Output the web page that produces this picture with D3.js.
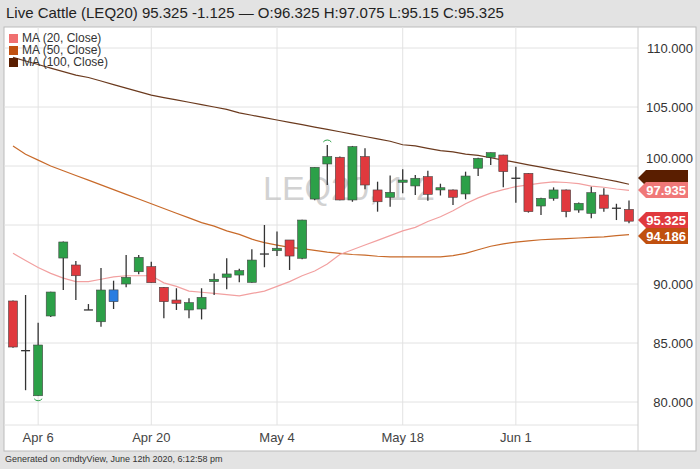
<!DOCTYPE html>
<html><head><meta charset="utf-8">
<script src="https://cdn.jsdelivr.net/npm/d3@7/dist/d3.min.js"></script>
<style>body{margin:0;background:#e3e3e3;font-family:"Liberation Sans",Arial,sans-serif}</style>
</head><body><svg id="c" width="700" height="469"></svg>
<script>
const dates=["2020-04-02","2020-04-03","2020-04-06","2020-04-07","2020-04-08","2020-04-09","2020-04-13","2020-04-14","2020-04-15","2020-04-16","2020-04-17","2020-04-20","2020-04-21","2020-04-22","2020-04-23","2020-04-24","2020-04-27","2020-04-28","2020-04-29","2020-04-30","2020-05-01","2020-05-04","2020-05-05","2020-05-06","2020-05-07","2020-05-08","2020-05-11","2020-05-12","2020-05-13","2020-05-14","2020-05-15","2020-05-18","2020-05-19","2020-05-20","2020-05-21","2020-05-22","2020-05-26","2020-05-27","2020-05-28","2020-05-29","2020-06-01","2020-06-02","2020-06-03","2020-06-04","2020-06-05","2020-06-08","2020-06-09","2020-06-10","2020-06-11","2020-06-12"];
const opens=[88.56,84.35,80.53,87.29,92.2,91.61,87.8,86.8,88.5,90.0,91.04,91.47,89.72,88.64,87.8,87.88,90.2,90.57,90.76,90.14,92.54,92.82,93.73,92.18,97.2,100.17,100.74,97.12,100.8,97.97,97.35,98.62,98.31,99.1,97.97,97.97,97.63,99.81,100.74,100.93,98.96,99.38,96.61,97.26,97.97,96.27,95.99,97.54,96.42,96.325];
const highs=[88.6,89.07,86.72,89.35,93.6,91.95,88.3,91.36,90.28,92.46,92.46,91.89,89.75,89.64,88.79,89.64,90.9,92.18,91.3,92.94,95.0,94.44,93.73,95.45,99.9,101.78,100.8,101.7,101.5,98.67,99.19,99.72,99.24,99.6,98.5,98.0,99.52,100.7,101.15,100.95,99.94,99.4,97.3,98.19,98.0,96.9,98.25,98.11,96.8,97.075];
const lows=[84.6,81.0,80.53,87.2,89.5,88.64,87.8,86.38,87.88,89.72,90.82,90.1,87.09,87.8,87.09,87.0,89.07,89.55,90.14,90.1,91.42,92.37,91.19,92.1,97.1,98.39,97.1,96.97,98.03,96.13,96.55,97.69,97.54,97.06,97.5,96.69,97.18,99.15,100.08,98.19,96.89,96.05,95.85,97.06,95.65,96.04,95.57,96.13,95.42,95.15];
const closes=[84.66,84.35,84.83,89.32,93.56,90.7,87.8,89.49,89.5,90.57,92.26,90.11,88.5,88.36,88.42,88.87,90.4,90.85,91.13,92.03,92.54,93.03,92.37,95.42,99.89,100.8,97.12,101.64,98.39,96.97,97.77,98.81,98.96,97.6,98.16,97.35,99.15,100.65,101.13,99.52,98.96,96.13,97.26,97.97,96.13,96.84,97.74,96.42,96.42,95.325];
const ma20=[92.6,92.0,91.4,90.9,90.5,90.2,90.2,90.4,90.6,90.7,90.7,90.7,90.1,89.8,89.4,89.3,89.2,89.1,89.0,89.2,89.4,89.8,90.2,90.7,91.1,91.7,92.5,92.9,93.3,93.7,94.1,94.5,94.8,95.3,95.7,96.2,96.8,97.3,97.7,98.0,98.25,98.4,98.55,98.65,98.6,98.5,98.3,98.2,98.05,97.935];
const ma50=[101.7,101.0,100.5,100.0,99.6,99.2,98.8,98.4,98.0,97.6,97.2,96.8,96.4,96.0,95.6,95.2,94.9,94.5,94.2,93.8,93.5,93.3,93.1,93.0,92.85,92.7,92.6,92.5,92.45,92.35,92.3,92.3,92.3,92.3,92.3,92.4,92.6,92.9,93.2,93.4,93.55,93.65,93.75,93.8,93.85,93.9,93.95,94.0,94.1,94.186];
const ma100=[109.2,108.9,108.6,108.3,108.0,107.7,107.5,107.2,106.9,106.6,106.3,106.0,105.8,105.6,105.4,105.2,105.0,104.8,104.5,104.3,104.1,103.9,103.7,103.5,103.3,103.1,102.9,102.7,102.5,102.3,102.1,101.8,101.7,101.5,101.3,101.2,101.0,100.9,100.7,100.5,100.3,100.1,99.9,99.7,99.5,99.3,99.1,98.9,98.7,98.45];
const yTicks=[80,85,90,95,100,105,110];
const yLabelTicks=[80,85,90,100,105,110];
const xTickDates=["2020-04-06","2020-04-20","2020-05-04","2020-05-18","2020-06-01"];
const xTickLabels=["Apr 6","Apr 20","May 4","May 18","Jun 1"];

const svg=d3.select("#c");
const L=4,R=638,T=27,B=425;
svg.append("rect").attr("x",L).attr("y",T).attr("width",692).attr("height",451-T).attr("fill","#fff").attr("stroke","#bbb");
svg.append("text").attr("x",6).attr("y",18).attr("font-size",15).attr("fill","#222").text("Live Cattle (LEQ20) 95.325 -1.125 — O:96.325 H:97.075 L:95.15 C:95.325");
svg.append("text").attr("x",5).attr("y",462).attr("font-size",9).attr("fill","#333").text("Generated on cmdtyView, June 12th 2020, 6:12:58 pm");

const x=d3.scalePoint().domain(dates).range([13,629]);
const y=d3.scaleLinear().domain([80,110]).range([402,48]);
const g=svg.append("g");
g.selectAll(".hg").data(yTicks).join("line").attr("x1",L).attr("x2",R).attr("y1",d=>y(d)).attr("y2",d=>y(d)).attr("stroke","#e2e2e2");
g.append("line").attr("x1",L).attr("x2",R).attr("y1",B).attr("y2",B).attr("stroke","#e2e2e2");
g.selectAll(".vg").data(xTickDates).join("line").attr("x1",d=>x(d)).attr("x2",d=>x(d)).attr("y1",T).attr("y2",B).attr("stroke","#e2e2e2");
g.append("line").attr("x1",R).attr("x2",R).attr("y1",T).attr("y2",451).attr("stroke","#ccc");
g.selectAll(".yl").data(yLabelTicks).join("text").attr("x",693).attr("y",d=>y(d)+(d===100?-3:5)).attr("text-anchor","end").attr("font-size",13).attr("fill","#333").text(d=>d.toFixed(3));
g.selectAll(".xl").data(xTickDates).join("text").attr("x",d=>x(d)).attr("y",442).attr("text-anchor","middle").attr("font-size",13).attr("fill","#444").text((d,i)=>xTickLabels[i]);
svg.append("text").attr("x",349).attr("y",200).attr("text-anchor","middle").attr("font-size",34).attr("fill","#c8c8c8").attr("opacity",0.8).text("LEQ20, 1 2");

const line=arr=>d3.line().x((d,i)=>x(dates[i])).y(d=>y(d))(arr);
svg.append("path").attr("d",line(ma100)).attr("fill","none").attr("stroke","#6b3a1e").attr("stroke-width",1.2);
svg.append("path").attr("d",line(ma50)).attr("fill","none").attr("stroke","#c86a2a").attr("stroke-width",1.2);
svg.append("path").attr("d",line(ma20)).attr("fill","none").attr("stroke","#f2a0a0").attr("stroke-width",1.2);

const bw=9;
const cg=svg.append("g");
dates.forEach((d,i)=>{
  const o=opens[i],c=closes[i];
  let col=c>o?"#2ca048":(c<o?"#e0393e":"#333");
  if(i===8) col="#2a7de1";
  cg.append("line").attr("x1",x(d)).attr("x2",x(d)).attr("y1",y(highs[i])).attr("y2",y(lows[i])).attr("stroke","#333").attr("stroke-width",1.3);
  const top=y(Math.max(o,c)),h=Math.abs(y(o)-y(c));
  if(h<1.5){cg.append("line").attr("x1",x(d)-bw/2).attr("x2",x(d)+bw/2).attr("y1",y(c)).attr("y2",y(c)).attr("stroke","#333").attr("stroke-width",1.3);}
  else cg.append("rect").attr("x",x(d)-bw/2).attr("y",top).attr("width",bw).attr("height",h).attr("fill",col).attr("stroke","#444").attr("stroke-width",0.6);
});
cg.append("path").attr("d",`M${x(dates[25])-4},${y(highs[25])-3} A5 5 0 0 1 ${x(dates[25])+4},${y(highs[25])-3}`).attr("fill","none").attr("stroke","#2ca048");
cg.append("path").attr("d",`M${x(dates[2])-4},${y(lows[2])+3} A5 5 0 0 0 ${x(dates[2])+4},${y(lows[2])+3}`).attr("fill","none").attr("stroke","#2ca048");

const leg=[["MA (20, Close)","#f07070"],["MA (50, Close)","#c0500f"],["MA (100, Close)","#5a1e00"]];
leg.forEach((l,i)=>{svg.append("rect").attr("x",9).attr("y",34+i*12).attr("width",9).attr("height",9).attr("fill",l[1]);
svg.append("text").attr("x",22).attr("y",42+i*12).attr("font-size",12).attr("fill","#333").text(l[0]);});

const tags=[[ma100[49],"#5a1e00","98.450"],[ma20[49],"#f07878","97.935"],[closes[49],"#e0393e","95.325"],[ma50[49],"#c0500f","94.186"]];
const tagY=[178,190,220,236];
tags.forEach((t,i)=>{const yy=tagY[i];
svg.append("path").attr("d",`M638,${yy} L646,${yy-8} L688,${yy-8} L688,${yy+8} L646,${yy+8} Z`).attr("fill",t[1]);
if(i!==0) svg.append("text").attr("x",686).attr("y",yy+5).attr("text-anchor","end").attr("font-size",13).attr("font-weight","bold").attr("fill","#fff").text(t[2]);});
</script></body></html>
